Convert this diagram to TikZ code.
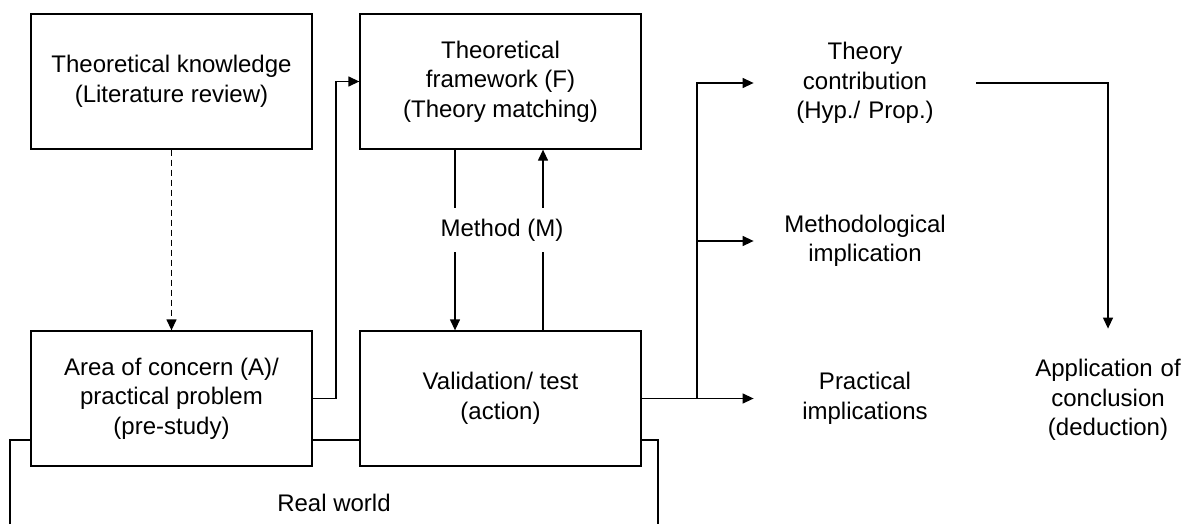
\documentclass[tikz,border=0pt]{standalone}
\usepackage{fontspec}
\setmainfont{Liberation Sans}
\usetikzlibrary{arrows.meta}
\begin{document}
\begin{tikzpicture}[x=0.5pt,y=-0.5pt,
  every node/.style={font=\fontsize{12}{14.75}\selectfont, align=center},
  box/.style={draw, line width=0.65pt, minimum width=140.5pt, minimum height=67.5pt, inner sep=0pt},
  lbl/.style={text width=111pt, inner xsep=0pt, inner ysep=2pt},
  line/.style={line width=0.65pt},
  arr/.style={line, -{Triangle[length=5.5pt,width=5pt]}},
  dasharr/.style={arr, dash pattern=on 3pt off 2pt},
]
\useasboundingbox (0,0) rectangle (1187,524);

% boxes
\node[box] (know)  at (171.5,81.5)  {Theoretical knowledge\\(Literature review)};
\node[box] (frame) at (500.5,81.5)  {Theoretical\\framework (F)\\(Theory matching)};
\node[box] (area)  at (171.5,398.5) {Area of concern (A)/\\practical problem\\(pre-study)};
\node[box] (valid) at (500.5,398.5) {Validation/ test\\(action)};

% outcome texts
\node[lbl] (theory) at (865,83)    {Theory\\contribution\\(Hyp./ Prop.)};
\node[lbl] (meth)   at (865,241)   {Methodological\\implication};
\node[lbl] (pract)  at (865,398.5) {Practical\\implications};
\node[text width=80pt, inner xsep=0pt, minimum height=71pt] (appl) at (1108,400) {Application of\\conclusion\\(deduction)};

% helper coordinates
\coordinate (jog) at (336,0);
\coordinate (mdown) at (455,0);
\coordinate (mup) at (543,0);
\coordinate (branch) at (697,0);
\coordinate (rwy) at (0,440);
\coordinate (rwl) at (10,524);
\coordinate (rwr) at (658,524);

% connectors
\draw[dasharr] (know.south) -- (area.north);
\draw[arr] (area.east) -- (area.east -| jog) |- (frame.west);
\draw[arr] (frame.south -| mdown) -- (valid.north -| mdown);
\draw[arr] (valid.north -| mup) -- (frame.south -| mup);
\node[fill=white, inner xsep=1pt, inner ysep=5.5pt] (method) at (502,230) {Method (M)};

\draw[arr] (valid.east) -- (valid.east -| pract.west);
\draw[arr] (valid.east -| branch) |- (theory.west);
\draw[arr] (branch |- meth.west) -- (meth.west);
\draw[arr] (theory.east) -| (appl.north);

% real world bracket
\draw[line] (rwl) |- (area.west |- rwy);
\draw[line] (area.east |- rwy) -- (valid.west |- rwy);
\draw[line] (valid.east |- rwy) -| (rwr);
\node (rw) at (334,503) {Real world};
\end{tikzpicture}
\end{document}
